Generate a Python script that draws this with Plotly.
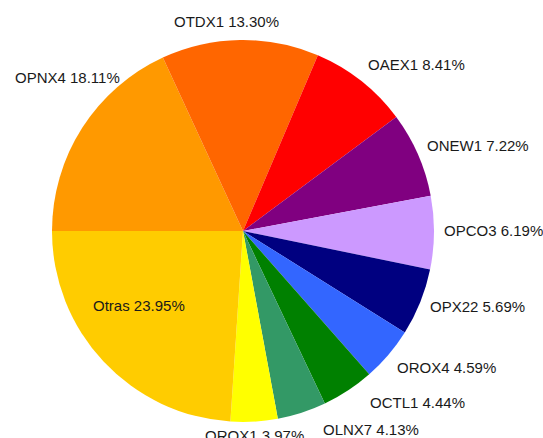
import math
import plotly.graph_objects as go

labels = ["OPNX4", "OTDX1", "OAEX1", "ONEW1", "OPCO3", "OPX22",
          "OROX4", "OCTL1", "OLNX7", "OROX1", "Otras"]
shares = [18.11, 13.30, 8.41, 7.22, 6.19, 5.69, 4.59, 4.44, 4.13, 3.97, 23.95]
colors = ["#FF9900", "#FF6600", "#FF0000", "#800080", "#CC99FF", "#000080",
          "#3366FF", "#008000", "#339966", "#FFFF00", "#FFCC00"]

W, H = 543, 438
cx, cy, r = 243, 231, 191      # pie centre and radius in pixels
start_angle = 270              # first slice starts at 9 o'clock, runs clockwise

# label ring (slightly elliptical) and per-label shifts that keep labels apart
label_rx, label_ry, label_cy = 200, 209, 229
label_shift = {
    "OTDX1": (-13, 1),
    "OPNX4": (46, -39),
    "OROX4": (1, 3),
    "OCTL1": (16, -1),
    "OLNX7": (17, 2),
    "OROX1": (0, -2),
}
inside_label = "Otras"
inside_pos = (-104, 74)        # offset of the inside label from the pie centre

font = dict(family="Liberation Sans, Arial, sans-serif", size=15, color="#1a1a1a")

fig = go.Figure(go.Pie(
    labels=labels,
    values=shares,
    textinfo="none",
    sort=False,
    direction="clockwise",
    rotation=start_angle,
    marker=dict(colors=colors, line=dict(width=0)),
    domain=dict(x=[(cx - r) / W, (cx + r) / W],
                y=[(H - cy - r) / H, (H - cy + r) / H]),
    hoverinfo="skip",
    showlegend=False,
))

total = sum(shares)
acc = 0.0
for lab, v in zip(labels, shares):
    mid = start_angle + 360.0 * (acc + v / 2) / total
    acc += v
    text = f"{lab} {v:.2f}%"
    th = math.radians(mid)
    s, c = math.sin(th), math.cos(th)
    if lab == inside_label:
        px, py = cx + inside_pos[0], cy + inside_pos[1]
        xanchor = "center"
    else:
        px = cx + label_rx * s
        py = label_cy - label_ry * c
        dx, dy = label_shift.get(lab, (0, 0))
        px += dx
        py += dy
        xanchor = "left" if s > 0.15 else ("right" if s < -0.15 else "center")
    fig.add_annotation(
        x=px / W, y=1 - py / H, xref="paper", yref="paper",
        text=text, showarrow=False, xanchor=xanchor, yanchor="middle",
        font=font, borderpad=0,
    )

fig.update_layout(
    width=W, height=H,
    margin=dict(l=0, r=0, t=0, b=0),
    paper_bgcolor="white",
    plot_bgcolor="white",
)

fig.write_html("out.html")
